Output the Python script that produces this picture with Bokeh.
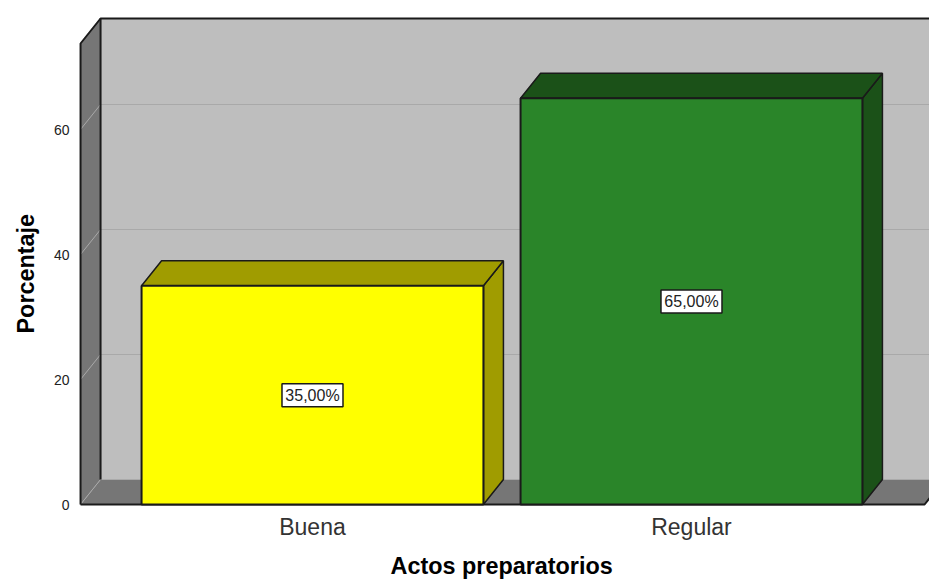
from bokeh.plotting import figure
from bokeh.embed import file_html
from bokeh.resources import INLINE
from bokeh.core.properties import value
from bokeh.models import FixedTicker, Title

categories = ["Buena", "Regular"]
percentages = [35, 65]
value_labels = ["35,00%", "65,00%"]
bar_colors = ["#FFFF00", "#2A8529"]
bar_top_colors = ["#A09C00", "#1B5118"]
y_ticks = [0, 20, 40, 60]
y_axis_top = 73.76
x_title = "Actos preparatorios"
y_title = "Porcentaje"

FONT = "Liberation Sans"
EDGE = "#1A1A1A"
WALL = "#BEBEBE"
SIDE = "#767676"
GRID = "#A9A9A9"
DX, DY = 0.0528, 4.0
BAR_W = 0.902
X_LEFT, X_RIGHT = -0.612, 1.615

p = figure(width=929, height=586, output_backend="svg", toolbar_location=None,
           x_range=(-0.6174, 1.628), y_range=(-0.32, 78.08),
           min_border_left=78, min_border_right=0, min_border_top=16, min_border_bottom=80,
           outline_line_color=None, background_fill_color=None, border_fill_color="white")
p.grid.visible = False

# room box
p.patch([X_LEFT + DX, X_RIGHT + DX, X_RIGHT + DX, X_LEFT + DX],
        [DY, DY, y_axis_top + DY, y_axis_top + DY], fill_color=WALL, line_color=None)
p.patch([X_LEFT, X_LEFT + DX, X_LEFT + DX, X_LEFT],
        [0, DY, y_axis_top + DY, y_axis_top], fill_color=SIDE, line_color=None)
p.patch([X_LEFT, X_RIGHT, X_RIGHT + DX, X_LEFT + DX], [0, 0, DY, DY], fill_color=SIDE, line_color=None)

# gridlines
grid_ticks = [t for t in y_ticks if t > 0]
p.segment([X_LEFT + DX] * 3, [t + DY for t in grid_ticks], [X_RIGHT + DX] * 3, [t + DY for t in grid_ticks],
          line_color=GRID, line_width=1)
p.segment([X_LEFT] * 4, y_ticks, [X_LEFT + DX] * 4, [t + DY for t in y_ticks], line_color=GRID, line_width=1)

# room edges
p.line([X_LEFT, X_LEFT, X_LEFT + DX, X_RIGHT + DX], [0, y_axis_top, y_axis_top + DY, y_axis_top + DY],
       line_color=EDGE, line_width=2)
p.line([X_LEFT + DX, X_LEFT + DX], [DY, y_axis_top + DY], line_color=EDGE, line_width=2)
p.line([X_LEFT, X_RIGHT, X_RIGHT + DX], [0, 0, DY], line_color=EDGE, line_width=2)

# 3D bars
for i, v in enumerate(percentages):
    l, r = i - BAR_W / 2, i + BAR_W / 2
    p.patch([r, r + DX, r + DX, r], [0, DY, v + DY, v], fill_color=bar_top_colors[i],
            line_color=EDGE, line_width=1.5)
    p.patch([l, r, r + DX, l + DX], [v, v, v + DY, v + DY], fill_color=bar_top_colors[i],
            line_color=EDGE, line_width=1.5)
    p.patch([l, r, r, l], [0, 0, v, v], fill_color=bar_colors[i], line_color=EDGE, line_width=2)

# value boxes
xs = list(range(len(categories)))
mids = [v / 2 for v in percentages]
p.rect(xs, mids, width=61, height=23, width_units="screen", height_units="screen",
       fill_color="white", line_color=EDGE, line_width=1.5)
p.text(xs, mids, text=value_labels, text_font=value(FONT), text_font_size="16px", text_color="#222222",
       text_align="center", text_baseline="middle")

# axes
p.yaxis.ticker = FixedTicker(ticks=y_ticks)
p.yaxis.axis_line_color = None
p.yaxis.major_tick_line_color = None
p.yaxis.minor_tick_line_color = None
p.yaxis.major_tick_out = 0
p.yaxis.major_tick_in = 0
p.yaxis.minor_tick_out = 0
p.yaxis.minor_tick_in = 0
p.yaxis.major_label_text_font = FONT
p.yaxis.major_label_text_font_size = "14px"
p.yaxis.major_label_text_color = "#222222"
p.yaxis.major_label_standoff = 9

p.xaxis.ticker = FixedTicker(ticks=xs)
p.xaxis.major_label_overrides = {i: c for i, c in enumerate(categories)}
p.xaxis.axis_line_color = None
p.xaxis.major_tick_line_color = None
p.xaxis.minor_tick_line_color = None
p.xaxis.major_tick_out = 0
p.xaxis.major_tick_in = 0
p.xaxis.minor_tick_out = 0
p.xaxis.minor_tick_in = 0
p.xaxis.major_label_text_font = FONT
p.xaxis.major_label_text_font_size = "23px"
p.xaxis.major_label_text_color = "#333333"
p.xaxis.major_label_standoff = 7

# axis titles as Title annotations, because they sit off-centre in the reference
p.add_layout(Title(text=x_title, align="left", offset=312, standoff=16, vertical_align="bottom",
                   text_font=FONT, text_font_style="bold", text_font_size="23.4px",
                   text_color="black"), "below")
p.add_layout(Title(text=y_title, align="left", offset=173, standoff=20, vertical_align="top",
                   text_font=FONT, text_font_style="bold", text_font_size="23.4px",
                   text_color="black"), "left")

open("out.html", "w").write(file_html(p, INLINE))
